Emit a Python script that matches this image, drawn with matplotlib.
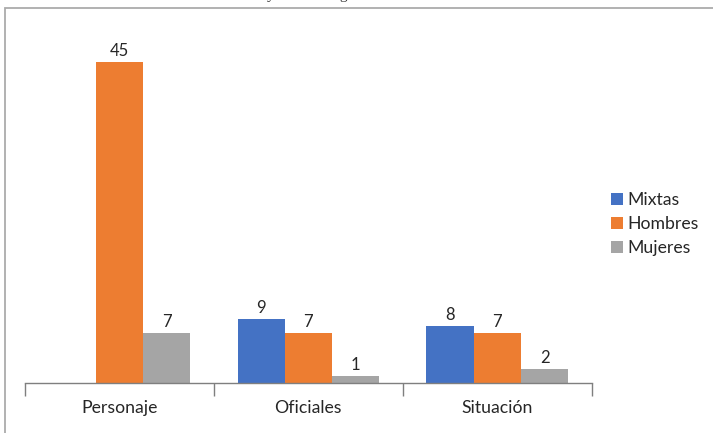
import matplotlib.pyplot as plt
import numpy as np
from matplotlib.patches import Rectangle

plt.rcParams["font.family"] = ["Lato", "DejaVu Sans"]

categories = ["Personaje", "Oficiales", "Situación"]
series_names = ["Mixtas", "Hombres", "Mujeres"]
mixtas = [0, 9, 8]
hombres = [45, 7, 7]
mujeres = [7, 1, 2]

colors = ["#4472C4", "#ED7D31", "#A5A5A5"]

fig = plt.figure(figsize=(7.13, 4.33), dpi=100)
ax = fig.add_axes([0.035, 0.1155, 0.795, 0.823])

# outer chart frame (runs off the right and bottom edges)
fig.patches.append(Rectangle((5 / 713, -0.1), 1.2, 1 - 8 / 433 + 0.1,
                             transform=fig.transFigure, fill=False,
                             edgecolor="#ABABAB", linewidth=1.3))

# caption descenders peeking in at the top
fig.text(271 / 713, 1 + 1 / 433, "y", family="Liberation Serif", fontsize=11,
         ha="center", va="baseline", color="#333333")
fig.text(343 / 713, 1 + 1 / 433, "g", family="Liberation Serif", fontsize=11,
         ha="center", va="baseline", color="#333333")

x = np.arange(len(categories))
width = 0.25
for i, (vals, name) in enumerate(zip([mixtas, hombres, mujeres], series_names)):
    pos = x + (i - 1) * width
    bars = ax.bar(pos, vals, width, color=colors[i], label=name)
    for b, v in zip(bars, vals):
        if v == 0:
            continue
        ax.text(b.get_x() + b.get_width() / 2, v + 0.45, str(v),
                ha="center", va="bottom", fontsize=12, color="#262626")

ax.set_xlim(-0.5, 2.5)
ax.set_ylim(0, 50)
ax.set_yticks([])
for s in ["left", "top", "right"]:
    ax.spines[s].set_visible(False)
ax.spines["bottom"].set_color("#7F7F7F")
ax.spines["bottom"].set_linewidth(1.0)

ax.set_xticks([-0.5, 0.5, 1.5, 2.5])
ax.set_xticklabels([])
ax.tick_params(axis="x", which="major", length=9, color="#7F7F7F", width=1.0)
ax.set_xticks(x, minor=True)
ax.set_xticklabels(categories, minor=True, fontsize=12.7, color="#262626")
ax.tick_params(axis="x", which="minor", length=0, pad=12)

ax.legend(loc="center left", bbox_to_anchor=(0.857, 0.483),
          bbox_transform=fig.transFigure, frameon=False, fontsize=12.7,
          handlelength=0.68, handleheight=0.68, handletextpad=0.25,
          labelspacing=0.45, borderaxespad=0, borderpad=0,
          labelcolor="#262626")

fig.savefig("out.png", dpi=100)
